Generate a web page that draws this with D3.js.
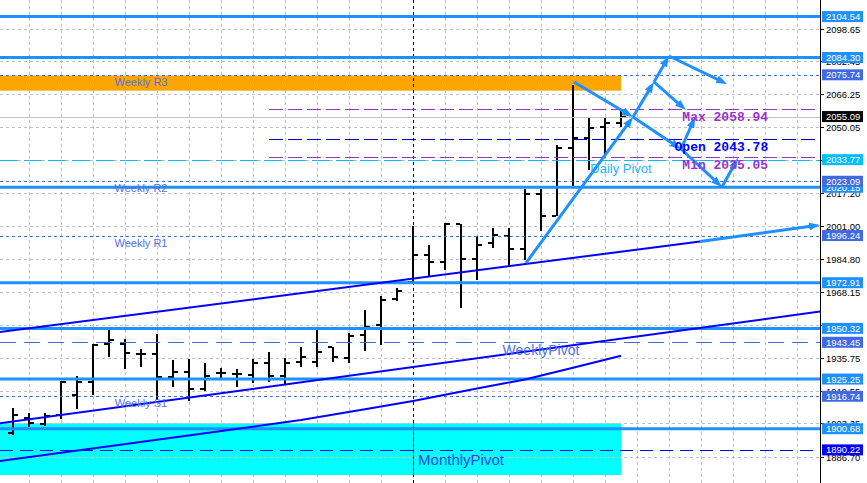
<!DOCTYPE html>
<html><head><meta charset="utf-8">
<script src="https://cdn.jsdelivr.net/npm/d3@7/dist/d3.min.js"></script>
<style>html,body{margin:0;padding:0;background:#fff;overflow:hidden}</style>
</head><body><svg id="c" width="867" height="483"></svg>
<script>
// ---------- DATA ----------
const opens  = [1898.58,1906.14,1903.03,1907.48,1917.37,1923.95,1942.45,1942.60,1937.80,1937.50,1926.42,1928.90,1920.34,1928.40,1927.76,1927.26,1933.35,1926.92,1933.84,1933.84,1940.96,1935.82,1947.05,1952.00,1964.86,1973.26,1986.77,1983.31,2001.95,1984.49,1992.41,1995.87,1989.44,2016.79,2005.91,2039.69,2044.64,2049.78,2052.06];
const highs  = [1910.94,1908.32,1908.47,1924.30,1926.77,1942.60,1949.52,1945.07,1940.12,1947.54,1934.68,1935.18,1933.35,1930.88,1930.08,1935.03,1938.64,1935.52,1941.26,1949.52,1941.26,1947.89,1959.41,1966.34,1970.15,2000.96,1991.57,2002.30,2002.10,1996.17,2000.12,2000.12,2019.27,2019.27,2041.03,2070.71,2054.24,2055.03,2058.69];
const lows   = [1897.59,1901.40,1902.04,1905.50,1910.45,1917.37,1936.32,1930.23,1931.22,1914.90,1921.48,1914.55,1919.35,1925.63,1921.48,1923.16,1923.95,1922.32,1931.37,1931.37,1933.84,1933.35,1939.28,1942.10,1964.02,1973.10,1975.89,1979.20,1960.55,1974.25,1990.23,1980.83,1984.15,1998.49,2005.91,2020.75,2028.66,2036.08,2050.08];
const closes = [1907.48,1903.52,1906.98,1923.80,1923.95,1942.10,1944.58,1938.30,1937.80,1926.42,1928.90,1920.34,1926.92,1928.40,1927.76,1933.35,1926.92,1933.35,1936.02,1938.79,1936.02,1946.70,1951.16,1964.36,1968.96,1986.62,1983.31,2001.95,1984.49,1991.71,1996.66,1989.44,2016.79,2005.91,2039.40,2044.34,2049.59,2052.06,2055.09];

const gridTicks = [2098.65,2082.45,2066.25,2050.05,2033.85,2017.20,2001.00,1984.80,1968.15,1951.95,1935.75,1919.55,1903.35,1886.70];
// tick labels that are not fully hidden behind a level box
const tickLabels = [2098.65,2082.45,2066.25,2050.05,2017.20,2001.00,1984.80,1968.15,1935.75,1919.55,1903.35,1886.70];
const gridBarIdx = d3.range(1, 50, 2);

const solidLevels  = [2104.54,2084.30,2020.15,1972.91,1950.32,1925.25,1900.68];
const dottedLevels = [2075.74,2023.09,1996.24,1916.74];
const weeklyPivot  = 1943.45;
const monthlyPivot = 1890.22;
const dailyPivot   = 2033.77;
const bidPrice     = 2055.09;

const dayNames  = ["Max","Open","Min"];
const dayValues = [2058.94,2043.78,2035.05];
const dayStartIdx = 16;
const dayTextIdx  = 47.2;

const separatorIdx = 25;
const zoneR3      = [2075.40, 2067.90];
const zoneMonthly = [1903.37, 1877.80];
const zoneEndIdx  = 38;

const trendA = [[-1,1948.34],[42.94,1993.30]];
const trendB = [[-1,1903.17],[51,1959.26]];
const maIdx  = [-1,6,12,18,22,25,29,32,35,38];
const maVals = [1884.53,1891.99,1898.42,1905.00,1910.34,1914.40,1920.53,1925.03,1930.87,1936.80];

// projection arrows: [fromIdx, fromPrice, toIdx, toPrice]
const arrows = [
  [32.06,1982.66,38.75,2054.88],
  [35.06,2072.19,38.75,2054.88],
  [38.75,2054.88,40.06,2072.19],
  [40.06,2072.19,41.00,2085.05],
  [41.00,2085.05,44.63,2071.20],
  [40.06,2072.19,42.06,2058.34],
  [38.75,2054.88,41.75,2039.05],
  [41.75,2039.05,42.63,2054.88],
  [41.75,2039.05,44.31,2020.25],
  [44.31,2020.25,45.31,2034.60],
  [42.94,1993.30,50.44,2001.45]
];

const labelTexts  = ["Weekly R3","Weekly R2","Weekly R1","Weekly S1","WeeklyPivot","MonthlyPivot","Daily Pivot"];
const labelLevels = [2075.74,2023.09,1996.24,1916.74,1943.45,1890.22,2033.77];
const labelIdx    = [8,8,8,8,33,28,38];

// ---------- SCALES ----------
const W = 867, H = 483, plotR = 820;
const x = d3.scaleLinear().domain([0,38]).range([13,621]);
const y = d3.scaleLinear().domain([1886.70,2098.65]).range([457,28.5]);

const svg = d3.select("#c");
svg.append("rect").attr("width",W).attr("height",H).attr("fill","#fff");
const defs = svg.append("defs");
defs.append("clipPath").attr("id","plot").append("rect").attr("x",0).attr("y",0).attr("width",plotR).attr("height",H);
defs.append("marker").attr("id","ah").attr("viewBox","0 0 11 8").attr("refX",11).attr("refY",4)
  .attr("markerWidth",11).attr("markerHeight",8).attr("markerUnits","userSpaceOnUse").attr("orient","auto")
  .append("path").attr("d","M0,0 L11,4 L0,8 Z").attr("fill","#1E90FF");

const g = svg.append("g").attr("clip-path","url(#plot)");

// zones
[[zoneR3,"#FFA500"],[zoneMonthly,"#00FFFF"]].forEach(([z,c])=>{
  g.append("rect").attr("x",0).attr("width",x(zoneEndIdx)-0)
   .attr("y",y(z[0])).attr("height",y(z[1])-y(z[0])).attr("fill",c);
});

// grid
g.selectAll(".hg").data(gridTicks).join("line")
  .attr("x1",0).attr("x2",plotR).attr("y1",d=>Math.round(y(d))+0.5).attr("y2",d=>Math.round(y(d))+0.5)
  .attr("stroke","#C0C0C0").attr("stroke-dasharray","3,3");
g.selectAll(".vg").data(gridBarIdx).join("line")
  .attr("x1",d=>Math.round(x(d))+0.5).attr("x2",d=>Math.round(x(d))+0.5).attr("y1",0).attr("y2",H)
  .attr("stroke","#C0C0C0").attr("stroke-dasharray","3,3");

// period separator
const sx = Math.round(x(separatorIdx))+0.5;
g.append("line").attr("x1",sx).attr("x2",sx).attr("y1",0).attr("y2",H)
  .attr("stroke","#000").attr("stroke-dasharray","3,3");
g.append("line").attr("x1",sx).attr("x2",sx).attr("y1",y(zoneMonthly[0])).attr("y2",y(zoneMonthly[1]))
  .attr("stroke","#FF0000").attr("stroke-dasharray","3,3");

// bars
const bars = g.append("g").attr("shape-rendering","crispEdges");
d3.range(opens.length).forEach(i=>{
  const cx = Math.round(x(i));
  const yh = Math.round(y(highs[i])), yl = Math.round(y(lows[i]));
  bars.append("rect").attr("x",cx-1).attr("width",2).attr("y",yh).attr("height",Math.max(2,yl-yh)).attr("fill","#000");
  bars.append("rect").attr("x",cx-5).attr("width",4).attr("y",Math.round(y(opens[i]))-1).attr("height",2).attr("fill","#000");
  bars.append("rect").attr("x",cx+1).attr("width",4).attr("y",Math.round(y(closes[i]))-1).attr("height",2).attr("fill","#000");
});

// bid line
g.append("line").attr("x1",0).attr("x2",plotR).attr("y1",Math.round(y(bidPrice))+0.5).attr("y2",Math.round(y(bidPrice))+0.5)
  .attr("stroke","#C0C0C0");
// daily pivot
g.append("line").attr("x1",0).attr("x2",plotR).attr("y1",Math.round(y(dailyPivot))+0.5).attr("y2",Math.round(y(dailyPivot))+0.5)
  .attr("stroke","#00BFFF").attr("stroke-dasharray","18,6");
// day stats lines
const dayColors = ["#9932CC","#0000CD","#9932CC"];
dayValues.forEach((v,i)=>{
  g.append("line").attr("x1",x(dayStartIdx)).attr("x2",plotR).attr("y1",Math.round(y(v))+0.5).attr("y2",Math.round(y(v))+0.5)
   .attr("stroke",dayColors[i]).attr("stroke-dasharray","14,5");
});
// dotted levels
g.selectAll(".dl").data(dottedLevels).join("line")
  .attr("x1",0).attr("x2",plotR).attr("y1",d=>Math.round(y(d))+0.5).attr("y2",d=>Math.round(y(d))+0.5)
  .attr("stroke","#4169E1").attr("stroke-dasharray","3,3");
// dashed pivots
g.append("line").attr("x1",0).attr("x2",plotR).attr("y1",Math.round(y(weeklyPivot))+0.5).attr("y2",Math.round(y(weeklyPivot))+0.5)
  .attr("stroke","#4169E1").attr("stroke-dasharray","16,8");
g.append("line").attr("x1",0).attr("x2",plotR).attr("y1",Math.round(y(monthlyPivot))+0.5).attr("y2",Math.round(y(monthlyPivot))+0.5)
  .attr("stroke","#0000FF").attr("stroke-dasharray","13,7");
// solid levels
g.selectAll(".sl").data(solidLevels).join("line")
  .attr("x1",0).attr("x2",plotR).attr("y1",d=>y(d)).attr("y2",d=>y(d))
  .attr("stroke","#1E90FF").attr("stroke-width",3);

// trend lines & MA
const ln = d3.line().x(d=>x(d[0])).y(d=>y(d[1]));
g.append("path").attr("d",ln(trendA)).attr("fill","none").attr("stroke","#0000FF").attr("stroke-width",2);
g.append("path").attr("d",ln(trendB)).attr("fill","none").attr("stroke","#0000FF").attr("stroke-width",2);
g.append("path").attr("d",ln(maIdx.map((d,i)=>[d,maVals[i]]))).attr("fill","none").attr("stroke","#0000FF").attr("stroke-width",2);

// arrows
const ag = svg.append("g");
arrows.forEach(a=>{
  const x1=x(a[0]), y1=y(a[1]), x2=x(a[2]), y2=y(a[3]);
  const L=Math.hypot(x2-x1,y2-y1), sh=6;
  const ex=x2-(x2-x1)/L*sh, ey=y2-(y2-y1)/L*sh;
  ag.append("line").attr("x1",x1).attr("y1",y1).attr("x2",ex).attr("y2",ey)
    .attr("stroke","#1E90FF").attr("stroke-width",3);
  ag.append("line").attr("x1",ex).attr("y1",ey).attr("x2",x2).attr("y2",y2)
    .attr("stroke","none").attr("stroke-width",1).attr("marker-end","url(#ah)");
});

// level labels
const lblSize = [11,11,11,11,14,15,13];
const lblOff  = [11,11,11,11,12.7,15,13.6];
const lblCol  = ["#5271E6","#5271E6","#5271E6","#5271E6","#5271E6","#2245E0","#1EB4F5"];
labelTexts.forEach((t,i)=>{
  svg.append("text").attr("x",x(labelIdx[i])).attr("y",y(labelLevels[i])+lblOff[i])
    .attr("text-anchor","middle").attr("font-family","'Liberation Sans',Arial,sans-serif")
    .attr("font-size",lblSize[i]).attr("fill",lblCol[i]).text(t);
});
// day stats texts
const dayTextCol = ["#9932CC","#0000FF","#9932CC"];
dayValues.forEach((v,i)=>{
  svg.append("text").attr("x",x(dayTextIdx)).attr("y",y(v)+12).attr("text-anchor","end")
    .attr("font-family","'Liberation Mono','Courier New',monospace").attr("font-weight","bold")
    .attr("font-size",13).attr("fill",dayTextCol[i]).text(dayNames[i]+" "+v.toFixed(2));
});

// axis
const ax = svg.append("g");
ax.append("rect").attr("x",plotR+1).attr("y",0).attr("width",W-plotR).attr("height",H).attr("fill","#fff");
ax.append("line").attr("x1",plotR+0.5).attr("x2",plotR+0.5).attr("y1",0).attr("y2",H).attr("stroke","#000");
gridTicks.forEach(t=>{
  const yy=Math.round(y(t))+0.5;
  ax.append("line").attr("x1",plotR).attr("x2",plotR+4).attr("y1",yy).attr("y2",yy).attr("stroke","#000");
});
tickLabels.forEach(t=>{
  const yy=Math.round(y(t))+0.5;
  ax.append("text").attr("x",826).attr("y",yy+3.5).attr("font-family","'Liberation Sans',Arial,sans-serif")
    .attr("font-size",9.5).attr("fill","#000").text(t.toFixed(2));
});
function box(v,col){
  const yy=y(v);
  ax.append("rect").attr("x",822).attr("y",yy-5.5).attr("width",41).attr("height",11).attr("fill",col);
  ax.append("text").attr("x",826).attr("y",yy+3.5).attr("font-family","'Liberation Sans',Arial,sans-serif")
    .attr("font-size",9.5).attr("fill","#fff").text(v.toFixed(2));
}
solidLevels.forEach(v=>box(v,"#1E90FF"));
dottedLevels.forEach(v=>box(v,"#4169E1"));
box(weeklyPivot,"#4169E1");
box(monthlyPivot,"#0000FF");
box(dailyPivot,"#00BFFF");
box(bidPrice,"#000000");
</script></body></html>
